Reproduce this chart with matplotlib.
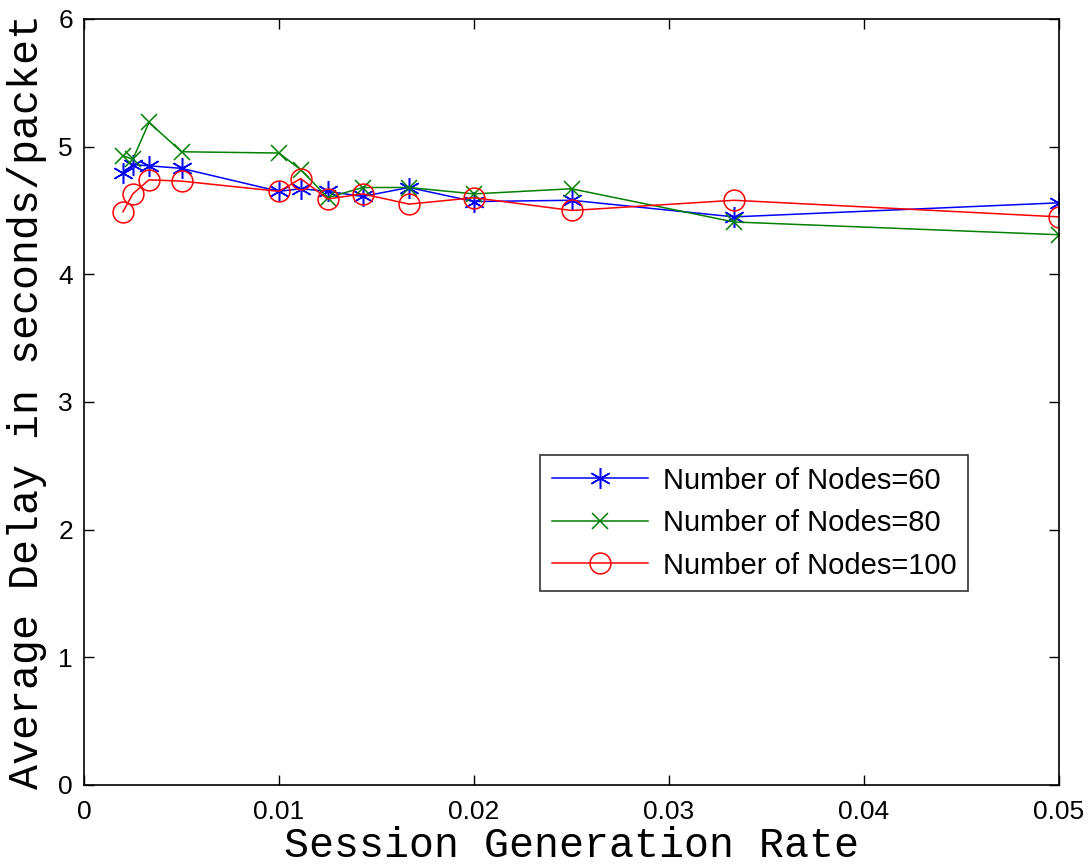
import matplotlib
matplotlib.use("Agg")
import matplotlib.pyplot as plt

# session generation rate = 1 / inter-session interval
rate = [1/500, 1/400, 1/300, 1/200, 1/100, 1/90, 1/80, 1/70, 1/60, 1/50, 1/40, 1/30, 1/20]

delay_60 = [4.79, 4.86, 4.85, 4.83, 4.65, 4.67, 4.65, 4.61, 4.68, 4.57, 4.58, 4.45, 4.56]
delay_80 = [4.93, 4.90, 5.19, 4.96, 4.95, 4.82, 4.60, 4.68, 4.68, 4.63, 4.67, 4.41, 4.31]
delay_100 = [4.49, 4.63, 4.74, 4.73, 4.65, 4.75, 4.59, 4.63, 4.55, 4.60, 4.50, 4.58, 4.45]

labels = ["Number of Nodes=60", "Number of Nodes=80", "Number of Nodes=100"]

plt.rcParams['font.family'] = 'Liberation Sans'

fig = plt.figure(figsize=(10.91, 8.67), dpi=100)
ax = fig.add_axes([0.077, 0.0946, 0.8937, 0.8835])

ax.plot(rate, delay_60, color=(0, 0, 1), lw=1.1, marker=(6, 2, 0),
        ms=15, mew=1.1, label=labels[0])
ax.plot(rate, delay_80, color=(0, 0.5, 0), lw=1.1, marker='x',
        ms=12, mew=1.1, label=labels[1])
ax.plot(rate, delay_100, color=(1, 0, 0), lw=1.1, marker='o', mfc='none',
        ms=15, mew=1.1, label=labels[2])

ax.set_xlim(0, 0.05)
ax.set_ylim(0, 6)
ax.set_xticks([0, 0.01, 0.02, 0.03, 0.04, 0.05])
ax.set_xticklabels(['0', '0.01', '0.02', '0.03', '0.04', '0.05'])
ax.set_yticks(range(7))
ax.tick_params(direction='in', length=7, width=1, top=True, right=True,
               labelsize=19)
ax.tick_params(axis='x', pad=11)
ax.tick_params(axis='y', pad=8)
for s in ax.spines.values():
    s.set_linewidth(1.2)

ax.set_xlabel("Session Generation Rate", family='Liberation Mono',
              fontsize=30, labelpad=1)
ax.set_ylabel("Average Delay in seconds/packet", family='Liberation Mono',
              fontsize=30, labelpad=8)

leg = ax.legend(loc='upper left', bbox_to_anchor=(0.468, 0.431),
                borderaxespad=0, fancybox=False, fontsize=21,
                handlelength=3.3, handletextpad=0.5, labelspacing=0.5,
                borderpad=0.4)
leg.get_frame().set_edgecolor('black')
leg.get_frame().set_linewidth(1.2)

fig.savefig("out.png", dpi=100)
